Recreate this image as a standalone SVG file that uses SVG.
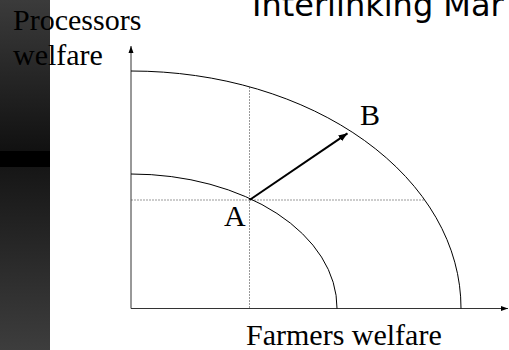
<svg xmlns="http://www.w3.org/2000/svg" width="509" height="350" viewBox="0 0 509 350">
<style>
.serif{font-family:"Liberation Serif","Times New Roman",serif;font-size:30px;fill:#000}
.title{font-family:"DejaVu Sans",Verdana,sans-serif;font-size:32px;fill:#000}
.axis{stroke:#333;stroke-width:1;fill:none}
.curve{stroke:#000;stroke-width:1;fill:none}
.guide{stroke:#999;stroke-width:1;stroke-dasharray:2 1;fill:none}
.move{stroke:#000;stroke-width:2;fill:none}
</style>
<defs>
<linearGradient id="bar" x1="0" y1="0" x2="0" y2="1">
<stop offset="0" stop-color="#3b3b3b"/>
<stop offset="0.43" stop-color="#111"/>
<stop offset="0.431" stop-color="#000"/>
<stop offset="0.476" stop-color="#000"/>
<stop offset="0.477" stop-color="#161616"/>
<stop offset="1" stop-color="#3d3d3d"/>
</linearGradient>
<marker id="ax" markerWidth="8" markerHeight="8" refX="7" refY="4" orient="auto" markerUnits="userSpaceOnUse">
<path d="M0,1.5 L7,4 L0,6.5 Z" fill="#000"/>
</marker>
<marker id="ar" markerWidth="10" markerHeight="10" refX="9" refY="5" orient="auto" markerUnits="userSpaceOnUse">
<path d="M0,1.5 L9,5 L0,8.5 Z" fill="#000"/>
</marker>
</defs>
<rect width="509" height="350" fill="#fff"/>
<rect x="0" y="0" width="50" height="350" fill="url(#bar)"/>
<text class="title" x="252" y="16">Interlinking Mar</text>
<g id="connectors">
<line class="guide" x1="249.5" y1="87" x2="249.5" y2="308"/>
<line class="guide" x1="131" y1="200" x2="424.5" y2="200"/>
<line class="axis" x1="131" y1="308.5" x2="131" y2="46" marker-end="url(#ax)"/>
<line class="axis" x1="131" y1="308.5" x2="508" y2="308.5" marker-end="url(#ax)"/>
<path class="curve" d="M131,71 A330,237 0 0 1 461,308.5"/>
<path class="curve" d="M131,174 A206,134 0 0 1 337,308.5"/>
<line class="move" x1="249.5" y1="200" x2="347.5" y2="133.3" marker-end="url(#ar)"/>
</g>
<g id="y-label"><text class="serif" x="13" y="30">Processors</text><text class="serif" x="13" y="65">welfare</text></g>
<g id="x-label"><text class="serif" x="246" y="345">Farmers welfare</text></g>
<g id="A"><text class="serif" x="224" y="226">A</text></g>
<g id="B"><text class="serif" x="360" y="125">B</text></g>
</svg>
